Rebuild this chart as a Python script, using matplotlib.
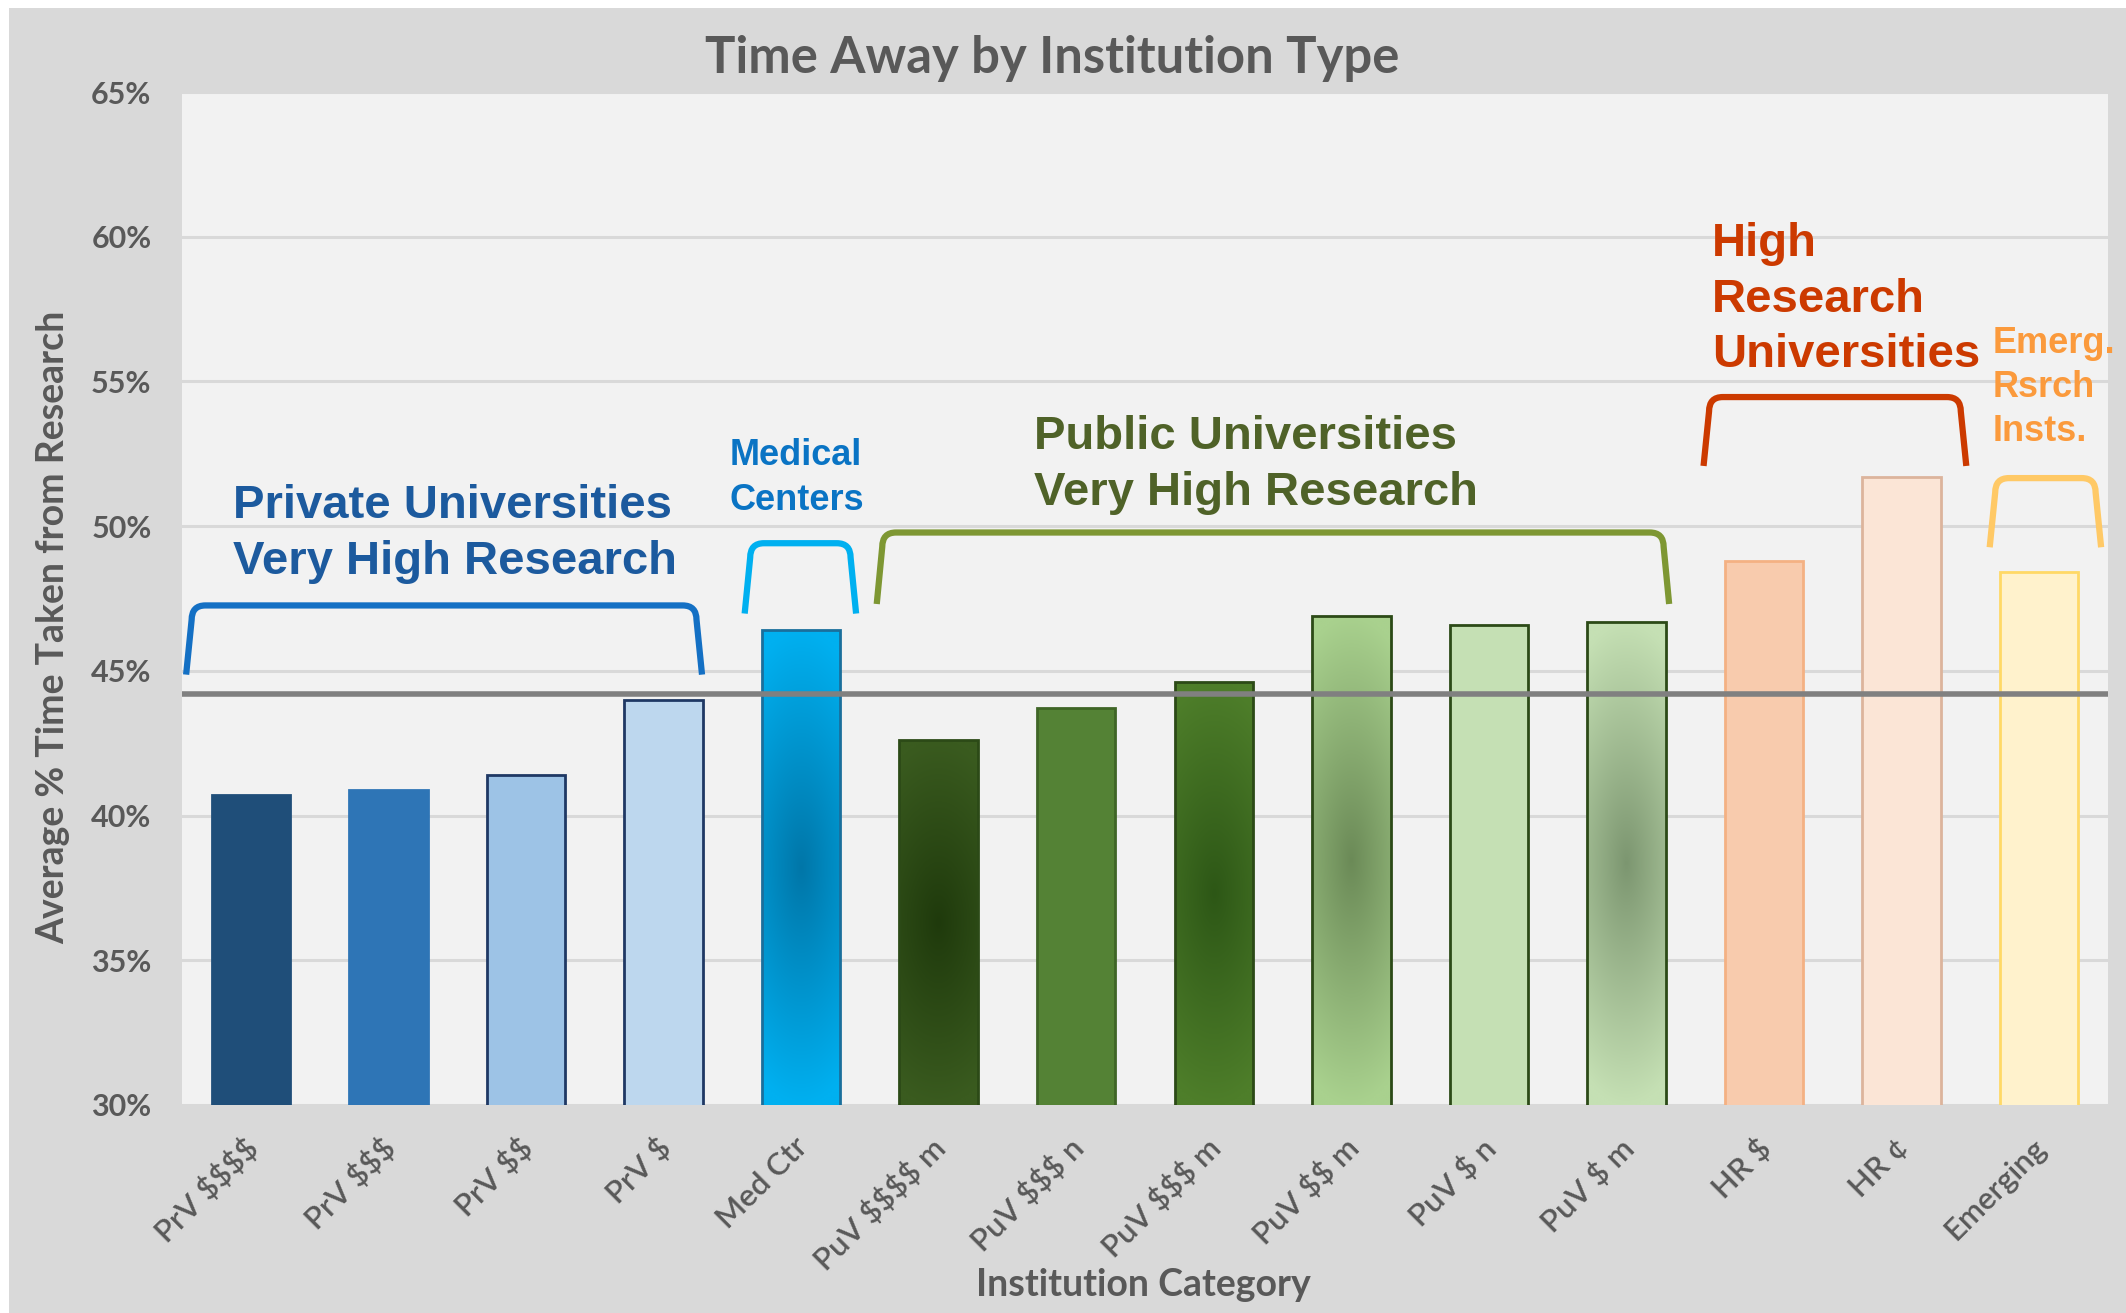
import numpy as np
import matplotlib
matplotlib.use('Agg')
import matplotlib.pyplot as plt
from matplotlib.patches import Rectangle, PathPatch
from matplotlib.path import Path
from matplotlib.colors import to_rgb
from matplotlib.transforms import ScaledTranslation

plt.rcParams['text.parse_math'] = False

# data
categories = ['PrV $$$$', 'PrV $$$', 'PrV $$', 'PrV $', 'Med Ctr',
              'PuV $$$$ m', 'PuV $$$ n', 'PuV $$$ m', 'PuV $$ m', 'PuV $ n', 'PuV $ m',
              'HR $', 'HR ¢', 'Emerging']
values = [40.7, 40.9, 41.4, 44.0, 46.4,
          42.6, 43.7, 44.6, 46.9, 46.6, 46.7,
          48.8, 51.7, 48.4]
overall_avg = 44.2
yticks = [30, 35, 40, 45, 50, 55, 60, 65]

group_labels = ['Private Universities\nVery High Research', 'Medical\nCenters',
                'Public Universities\nVery High Research', 'High\nResearch\nUniversities',
                'Emerg.\nRsrch\nInsts.']

# styles
fill_colors = ['#1f4e79', '#2e75b6', '#9dc3e6', '#bdd7ee', '#00b0f0',
               '#3a5b1f', '#548235', '#4e7e2a', '#a9d18e', '#c5e0b4', '#c5e0b4',
               '#f8cbad', '#fbe5d6', '#fff2cc']
center_colors = [None, None, None, None, '#0076a8',
                 '#1f3a0c', None, '#2d5716', '#6b8a57', None, '#7c9670',
                 None, None, None]
edge_colors = ['#1f4e79', '#2e75b6', '#1f3864', '#1f3864', '#1a6f9c',
               '#2c4a17', '#3f6526', '#2c4a17', '#2c4a17', '#2c4a17', '#2c4a17',
               '#f4b183', '#dcb49c', '#ffd966']
text_colors = ['#1c5a9e', '#0a74c4', '#4f6228', '#cc3a00', '#fb9a3c']
bracket_colors = ['#1470c4', '#00b0f0', '#7e9733', '#cc3a00', '#ffc966']
label_gray = '#595959'

W, H = 2126, 1313
fig = plt.figure(figsize=(W / 100, H / 100), dpi=100, facecolor='white')
fig.patches.append(Rectangle((9 / W, 0), 1, 1 - 8 / H, transform=fig.transFigure,
                             facecolor='#d9d9d9', edgecolor='none', zorder=-10))

ax = fig.add_axes([182 / W, 1 - 1105 / H, 1926 / W, 1013 / H])
ax.set_facecolor('#f2f2f2')
for s in ax.spines.values():
    s.set_visible(False)

x = np.arange(len(categories))
bw = 0.57
bars = ax.bar(x, values, width=bw, color=fill_colors, edgecolor='none', zorder=2)

# radial-ish gradient fill on some bars
ny, nx = 300, 40
yy = np.linspace(-1, 1, ny)[:, None]
xx = np.linspace(-1, 1, nx)[None, :]
dist = np.clip(np.sqrt(yy ** 2 + 0.2 * xx ** 2), 0, 1)[..., None]
for i, b in enumerate(bars):
    if center_colors[i] is None:
        continue
    outer = np.array(to_rgb(fill_colors[i]))
    inner = np.array(to_rgb(center_colors[i]))
    img = inner * (1 - dist) + outer * dist
    im = ax.imshow(img, extent=[x[i] - bw / 2, x[i] + bw / 2, 30, values[i]],
                   aspect='auto', origin='lower', interpolation='bilinear', zorder=2.5)
    im.set_clip_path(b)

ax.bar(x, values, width=bw, facecolor='none', edgecolor=edge_colors, linewidth=2, zorder=3)

ax.axhline(overall_avg, color='#808080', lw=4, zorder=4)

ax.set_xlim(-0.5, 13.5)
ax.set_ylim(30, 65)
ax.set_yticks(yticks)
ax.set_yticklabels(['%d%%' % v for v in yticks], fontsize=22, fontweight='bold',
                   color=label_gray, family='Lato')
ax.yaxis.grid(True, color='#d9d9d9', lw=2.2)
ax.set_axisbelow(True)
ax.tick_params(axis='both', length=0)
ax.tick_params(axis='y', pad=22)
ax.tick_params(axis='x', pad=20)
ax.set_xticks(x)
ax.set_xticklabels(categories, rotation=45, ha='right', va='top', rotation_mode='anchor',
                   fontsize=22.5, fontweight='semibold', color=label_gray, family='Lato')
for lab in ax.get_xticklabels():
    lab.set_transform(lab.get_transform() + ScaledTranslation(-0.08, 0, fig.dpi_scale_trans))

# group brackets
def bracket(x0, x1, ytop, ybot, color):
    fl, rx, ry = 0.04, 0.1, 0.5
    verts = [(x0, ybot), (x0 + fl, ytop - ry), (x0 + fl, ytop), (x0 + fl + rx, ytop),
             (x1 - fl - rx, ytop), (x1 - fl, ytop), (x1 - fl, ytop - ry), (x1, ybot)]
    codes = [Path.MOVETO, Path.LINETO, Path.CURVE3, Path.CURVE3,
             Path.LINETO, Path.CURVE3, Path.CURVE3, Path.LINETO]
    ax.add_patch(PathPatch(Path(verts, codes), fill=False, edgecolor=color, lw=4.5,
                           capstyle='butt', joinstyle='round', zorder=5, clip_on=False))

bracket(-0.47, 3.28, 47.26, 44.87, bracket_colors[0])
bracket(3.59, 4.40, 49.41, 46.98, bracket_colors[1])
bracket(4.55, 10.31, 49.78, 47.31, bracket_colors[2])
bracket(10.56, 12.47, 54.46, 52.08, bracket_colors[3])
bracket(12.64, 13.45, 51.66, 49.27, bracket_colors[4])

text_pos = [(-0.13, 49.74, 34, 1.35), (3.48, 51.66, 26, 1.4), (5.69, 52.12, 34, 1.35),
            (10.62, 57.83, 34, 1.35), (12.66, 54.79, 26, 1.35)]
for (tx, ty, fs, ls), lab, c in zip(text_pos, group_labels, text_colors):
    ax.text(tx, ty, lab, ha='left', va='center', fontsize=fs, fontweight='bold',
            color=c, family='Liberation Sans', linespacing=ls, zorder=6, clip_on=False)

fig.text(1052 / W, 1 - 58 / H, 'Time Away by Institution Type', ha='center', va='center',
         fontsize=36.5, fontweight='bold', color=label_gray, family='Lato')
fig.text(53 / W, 1 - 627 / H, 'Average % Time Taken from Research', rotation=90,
         ha='center', va='center', fontsize=27, fontweight='bold', color=label_gray, family='Lato')
fig.text(1143 / W, 1 - 1285 / H, 'Institution Category', ha='center', va='center',
         fontsize=27, fontweight='bold', color=label_gray, family='Lato')

fig.savefig('out.png', dpi=100, facecolor=fig.get_facecolor())
